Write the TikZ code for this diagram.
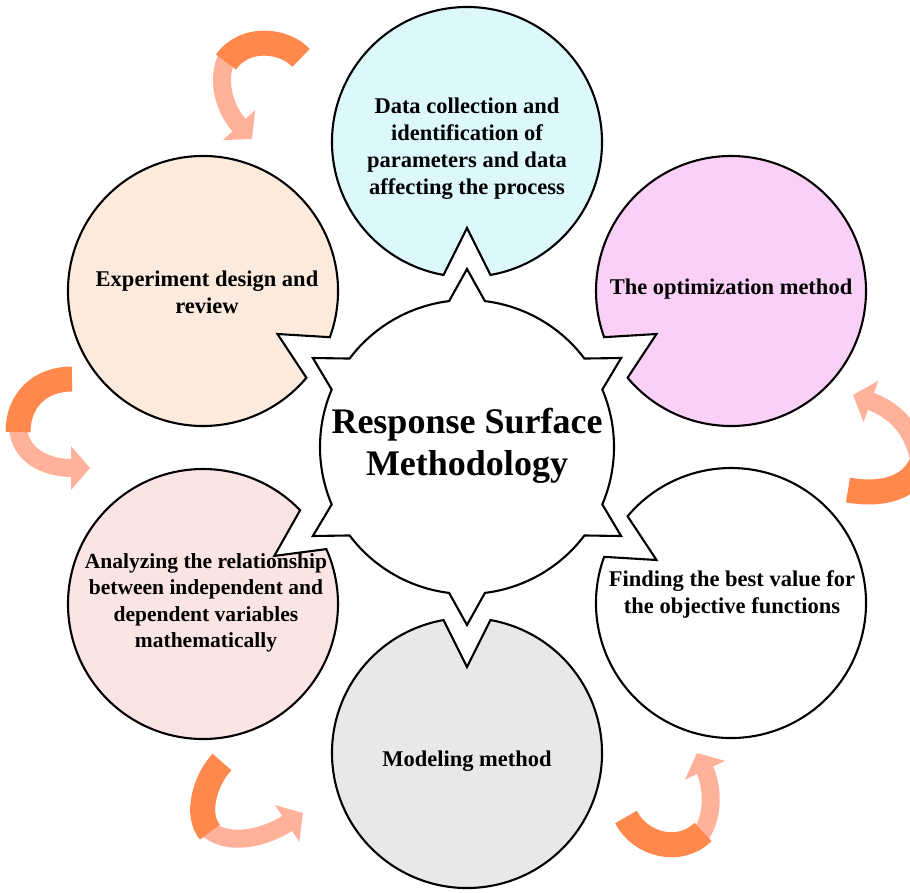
\documentclass[tikz,border=0pt]{standalone}
\usepackage{fontspec}
\setmainfont{Liberation Serif}
\usetikzlibrary{arrows.meta}
\definecolor{cyanfill}{HTML}{DDF8FC}
\definecolor{pinkfill}{HTML}{FAD0F7}
\definecolor{greyfill}{HTML}{E8E8E8}
\definecolor{rosefill}{HTML}{FBE4E4}
\definecolor{peachfill}{HTML}{FCEBDC}
\definecolor{arrowdark}{HTML}{FF884C}
\definecolor{arrowlight}{HTML}{FFB199}
\tikzset{
  outline/.style={draw=black, line width=2.1pt, line join=miter},
  circletext/.style={font=\fontsize{22.5}{27}\selectfont\bfseries, align=center, inner sep=0pt, text=black},
  smalltext/.style={circletext, font=\fontsize{21.5}{26.5}\selectfont\bfseries},
  titletext/.style={font=\fontsize{36}{42}\selectfont\bfseries, align=center, inner sep=0pt, text=black},
  darkband/.style={draw=arrowdark, line width=25pt},
  lightband/.style={draw=arrowlight, line width=18pt, -{Triangle[width=43pt,length=19pt]}},
}
\begin{document}
\begin{tikzpicture}[x=1pt,y=-1pt]
\useasboundingbox (0,0) rectangle (910,892);
% outer circles, each with a notch facing the centre
\foreach \cx/\cy/\d/\col in {467/142/270/cyanfill, 731/291/210/pinkfill, 731/603/150/white, 467/753/90/greyfill, 203/604/34/rosefill, 203/291/330/peachfill}{
  \begin{scope}[shift={(\cx,\cy)}]
    \filldraw[outline, fill=\col] (\d+10:135pt) arc[start angle=\d+10, end angle=\d+350, radius=135pt] -- (\d:86pt) -- cycle;
  \end{scope}
}
% central star
\begin{scope}[shift={(467,447)}]
  \filldraw[outline, fill=white] (37:147pt)
    \foreach \a in {90,150,210,270,330,390} { arc[start angle=\a-53, end angle=\a-7, radius=147pt] -- (\a:178pt) -- (\a+7:147pt) } -- cycle;
\end{scope}
% texts
\node[circletext] (datacollection) at (467,149) {Data collection and\\identification of\\parameters and data\\affecting the process};
\node[circletext] (optimization) at (731,289) {The optimization method};
\node[circletext] (bestvalue) at (732,594) {Finding the best value for\\the objective functions};
\node[circletext] (modeling) at (467,761) {Modeling method};
\node[smalltext] (analyzing) at (206,603) {Analyzing the relationship\\between independent and\\dependent variables\\mathematically};
\node[circletext] (experiment) at (207,292) {Experiment design and\\review};
\node[titletext] (rsm) at (467,446) {Response Surface\\Methodology};
% curved ribbon arrows
\draw[lightband] (228,55) .. controls (215,80) and (225,110) .. (252,139);
\draw[darkband] (301,58) .. controls (285,40) and (245,35) .. (226,62);
\draw[lightband] (18,428) .. controls (20,455) and (45,468) .. (90,468);
\draw[darkband] (72,379) .. controls (40,379) and (18,400) .. (18,432);
\draw[lightband] (920,465) .. controls (915,430) and (895,410) .. (853,395);
\draw[darkband] (848,490) .. controls (875,495) and (910,492) .. (922,462);
\draw[lightband] (205,826) .. controls (225,848) and (265,838) .. (303,813);
\draw[darkband] (222,762) .. controls (205,780) and (195,815) .. (210,832);
\draw[lightband] (700,836) .. controls (715,815) and (712,785) .. (697,753);
\draw[darkband] (626,817) .. controls (640,845) and (680,855) .. (703,832);
\end{tikzpicture}
\end{document}
